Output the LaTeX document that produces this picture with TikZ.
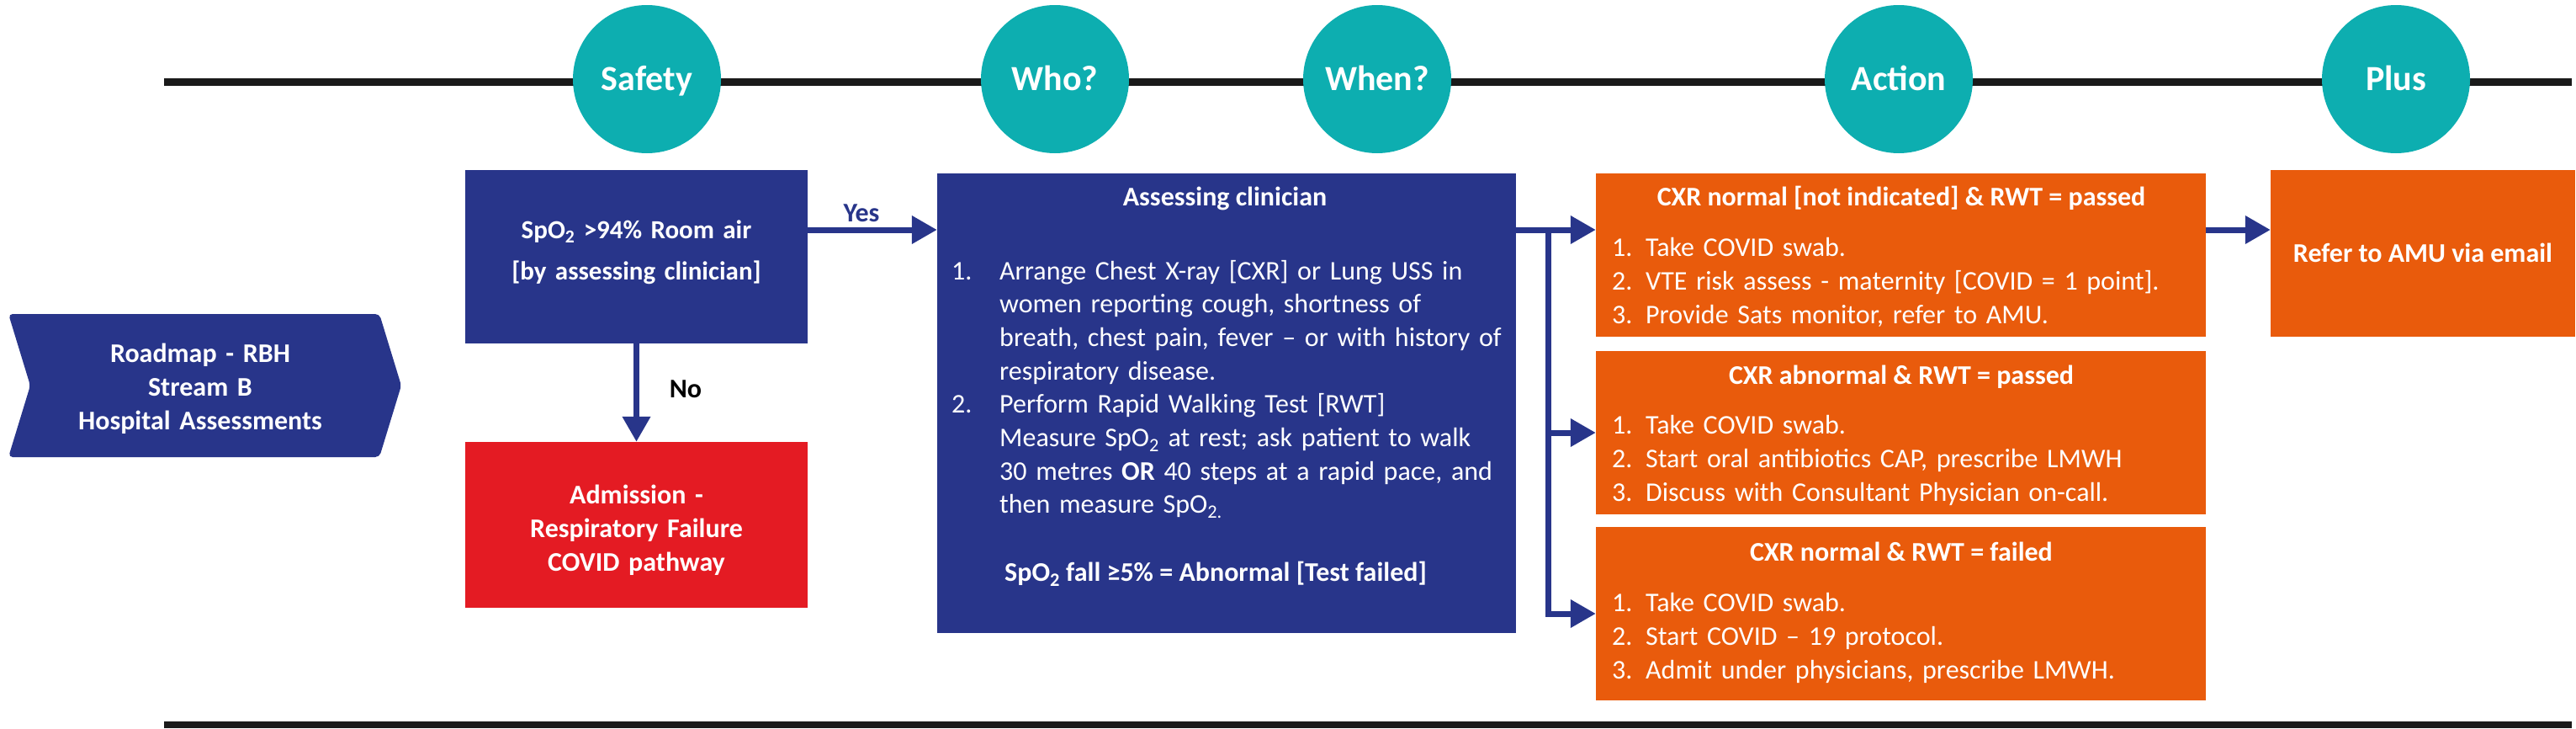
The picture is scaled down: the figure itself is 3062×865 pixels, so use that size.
\documentclass[tikz,border=0pt]{standalone}
\usepackage{fontspec}
\setmainfont{Carlito}
\usetikzlibrary{arrows.meta,shapes.symbols}
\definecolor{tealc}{HTML}{0DAEB0}
\definecolor{navyc}{HTML}{28358A}
\definecolor{redc}{HTML}{E41B23}
\definecolor{orangec}{HTML}{E95B0C}
\definecolor{linec}{HTML}{1A1A1A}
\newcommand\myBody{\fontsize{32}{40}\selectfont}
\newcommand\myBodyC{\fontsize{32}{39.7}\selectfont}
\newcommand\myBold{\fontsize{32}{40}\selectfont\bfseries}
\newcommand\myBoldS{\fontsize{31}{49}\selectfont\bfseries}
\newcommand\myHub{\fontsize{42}{50}\selectfont\bfseries}
\tikzset{
  box/.style={rectangle, inner sep=0pt, draw=none},
  wt/.style={text=white, inner sep=0pt},
  hub/.style={circle, fill=tealc, minimum size=176pt, inner sep=0pt, text=white,
    font=\myHub, text height=27pt, text depth=0pt},
  arr/.style={draw=navyc, line width=7pt, -{Triangle[length=30pt,width=32pt]}},
  rule/.style={draw=linec},
}
\begin{document}
\begin{tikzpicture}[x=1pt,y=-1pt]
\useasboundingbox (0,0) rectangle (3062,865);
% timeline rules
\draw[rule, line width=9pt] (195,97) -- (3057,97);
\draw[rule, line width=8pt] (195,861) -- (3057,861);
% hubs
\node[hub] (h1) at (769,94) {Safety};
\node[hub] (h2) at (1254,94) {Who?};
\node[hub] (h3) at (1637,94) {When?};
\node[hub] (h4) at (2257,94) {Action};
\node[hub] (h5) at (2848,94) {Plus};
% roadmap chevron
\node[signal, signal to=east, signal from=west, signal pointer angle=146, rounded corners=5pt,
  fill=navyc, minimum width=467pt, minimum height=170pt, inner sep=0pt] (rm) at (243.5,458) {};
\node[wt, font=\myBold, align=center, text width=440pt, anchor=base] (rmt) at (238,430)
  {Roadmap - RBH\\Stream B\\Hospital Assessments};
% safety box
\node[box, fill=navyc, minimum width=407pt, minimum height=206pt] (s) at (756.5,305) {};
\node[wt, font=\myBoldS, align=center, text width=400pt, anchor=base] (st) at (756.5,283)
  {SpO\textsubscript{2} >94\% Room air\\{}[by assessing clinician]};
% red box
\node[box, fill=redc, minimum width=407pt, minimum height=197pt] (r) at (756.5,623.5) {};
\node[wt, font=\myBold, align=center, text width=400pt, anchor=base] (rt) at (756.5,598)
  {Admission -\\Respiratory Failure\\COVID pathway};
% clinician box
\node[box, fill=navyc, minimum width=688pt, minimum height=546pt] (c) at (1458,479) {};
\node[wt, font=\myBold, anchor=base] (ct) at (1456,244) {Assessing clinician};
\node[wt, font=\myBodyC, align=left, text width=660pt, anchor=base west] (cl) at (1131,332)
  {\makebox[57pt][l]{1.}Arrange Chest X-ray [CXR] or Lung USS in\\
   \hspace*{57pt}women reporting cough, shortness of\\
   \hspace*{57pt}breath, chest pain, fever – or with history of\\
   \hspace*{57pt}respiratory disease.\\
   \makebox[57pt][l]{2.}Perform Rapid Walking Test [RWT]\\
   \hspace*{57pt}Measure SpO\textsubscript{2} at rest; ask patient to walk\\
   \hspace*{57pt}30 metres \textbf{OR} 40 steps at a rapid pace, and\\
   \hspace*{57pt}then measure SpO\textsubscript{2.}};
\node[wt, font=\myBold, anchor=base] (cb) at (1445,690)
  {SpO\textsubscript{2} fall ≥5\% = Abnormal [Test failed]};
% action boxes
\node[box, fill=orangec, minimum width=725pt, minimum height=194pt] (b1) at (2259.5,303) {};
\node[wt, font=\myBold, anchor=base] (b1t) at (2260,244) {CXR normal [not indicated] \& RWT = passed};
\node[wt, font=\myBody, align=left, text width=690pt, anchor=base west] (b1l) at (1916,304)
  {\makebox[40pt][l]{1.}Take COVID swab.\\
   \makebox[40pt][l]{2.}VTE risk assess - maternity [COVID = 1 point].\\
   \makebox[40pt][l]{3.}Provide Sats monitor, refer to AMU.};
\node[box, fill=orangec, minimum width=725pt, minimum height=194pt] (b2) at (2259.5,514) {};
\node[wt, font=\myBold, anchor=base] (b2t) at (2260,456) {CXR abnormal \& RWT = passed};
\node[wt, font=\myBody, align=left, text width=690pt, anchor=base west] (b2l) at (1916,515)
  {\makebox[40pt][l]{1.}Take COVID swab.\\
   \makebox[40pt][l]{2.}Start oral antibiotics CAP, prescribe LMWH\\
   \makebox[40pt][l]{3.}Discuss with Consultant Physician on-call.};
\node[box, fill=orangec, minimum width=725pt, minimum height=206pt] (b3) at (2259.5,729) {};
\node[wt, font=\myBold, anchor=base] (b3t) at (2260,666) {CXR normal \& RWT = failed};
\node[wt, font=\myBody, align=left, text width=690pt, anchor=base west] (b3l) at (1916,726)
  {\makebox[40pt][l]{1.}Take COVID swab.\\
   \makebox[40pt][l]{2.}Start COVID – 19 protocol.\\
   \makebox[40pt][l]{3.}Admit under physicians, prescribe LMWH.};
% plus box
\node[box, fill=orangec, minimum width=362pt, minimum height=198pt, text=white,
  font=\myBold, text height=21pt, text depth=0pt] (p) at (2880,301) {Refer to AMU via email};
% labels
\node[font=\myBold, text=navyc, anchor=base, inner sep=0pt] (yes) at (1024,263) {Yes};
\node[font=\myBold, text=black, anchor=base, inner sep=0pt] (no) at (815,472) {No};
% connectors
\coordinate (row) at (0,273);
\draw[arr] (s.east |- row) -- (c.west |- row);
\draw[arr] (s.south) -- (r.north);
\draw[arr] (c.east |- row) -- (b1.west |- row);
\coordinate (fork) at ([xshift=38pt]c.east |- row);
\draw[arr] (fork) |- (b2.west);
\draw[arr] (fork) |- (b3.west);
\draw[arr] (b1.east |- row) -- (p.west |- row);
\end{tikzpicture}
\end{document}
